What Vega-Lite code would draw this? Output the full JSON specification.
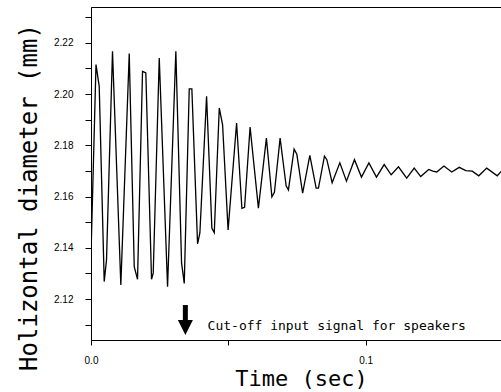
{
  "$schema": "https://vega.github.io/schema/vega-lite/v6.json",
  "autosize": "none",
  "width": 412,
  "height": 333,
  "padding": {"left": 91, "top": 7, "right": -2, "bottom": 52},
  "background": "white",
  "config": {
    "view": {"stroke": "black", "strokeWidth": 1, "strokeOpacity": 1},
    "axis": {
      "grid": false,
      "domainColor": "black",
      "tickColor": "black",
      "labelColor": "black",
      "titleColor": "black",
      "labelFontSize": 10,
      "titleFont": "DejaVu Sans Mono",
      "titleFontWeight": "normal"
    }
  },
  "datasets": {
    "wave": [
      {"t": 0.0, "d": 2.1372},
      {"t": 0.00182, "d": 2.2115},
      {"t": 0.00299, "d": 2.2030},
      {"t": 0.00481, "d": 2.1268},
      {"t": 0.00565, "d": 2.1353},
      {"t": 0.00783, "d": 2.2167},
      {"t": 0.01086, "d": 2.1255},
      {"t": 0.01392, "d": 2.2158},
      {"t": 0.01574, "d": 2.1326},
      {"t": 0.01694, "d": 2.1277},
      {"t": 0.01876, "d": 2.2089},
      {"t": 0.01996, "d": 2.2083},
      {"t": 0.02204, "d": 2.1277},
      {"t": 0.02266, "d": 2.1302},
      {"t": 0.02485, "d": 2.2141},
      {"t": 0.02787, "d": 2.1248},
      {"t": 0.03089, "d": 2.2167},
      {"t": 0.03297, "d": 2.1341},
      {"t": 0.03395, "d": 2.1261},
      {"t": 0.03577, "d": 2.2020},
      {"t": 0.03672, "d": 2.2020},
      {"t": 0.03880, "d": 2.1415},
      {"t": 0.03964, "d": 2.1458},
      {"t": 0.04208, "d": 2.1991},
      {"t": 0.04401, "d": 2.1476},
      {"t": 0.04488, "d": 2.1459},
      {"t": 0.04670, "d": 2.1946},
      {"t": 0.04791, "d": 2.1880},
      {"t": 0.04991, "d": 2.1470},
      {"t": 0.05301, "d": 2.1887},
      {"t": 0.05494, "d": 2.1554},
      {"t": 0.05592, "d": 2.1558},
      {"t": 0.05792, "d": 2.1871},
      {"t": 0.06095, "d": 2.1555},
      {"t": 0.06386, "d": 2.1828},
      {"t": 0.06586, "d": 2.1599},
      {"t": 0.06678, "d": 2.1617},
      {"t": 0.06885, "d": 2.1828},
      {"t": 0.07104, "d": 2.1642},
      {"t": 0.07188, "d": 2.1626},
      {"t": 0.07395, "d": 2.1785},
      {"t": 0.07494, "d": 2.1765},
      {"t": 0.07705, "d": 2.1613},
      {"t": 0.07967, "d": 2.1761},
      {"t": 0.08197, "d": 2.1633},
      {"t": 0.08281, "d": 2.1633},
      {"t": 0.08499, "d": 2.1758},
      {"t": 0.08587, "d": 2.1744},
      {"t": 0.08780, "d": 2.1654},
      {"t": 0.09060, "d": 2.1732},
      {"t": 0.09301, "d": 2.1660},
      {"t": 0.09592, "d": 2.1744},
      {"t": 0.09847, "d": 2.1676},
      {"t": 0.10117, "d": 2.1731},
      {"t": 0.10393, "d": 2.1676},
      {"t": 0.10674, "d": 2.1725},
      {"t": 0.10929, "d": 2.1685},
      {"t": 0.11195, "d": 2.1716},
      {"t": 0.11494, "d": 2.1672},
      {"t": 0.11767, "d": 2.1711},
      {"t": 0.12004, "d": 2.1678},
      {"t": 0.12295, "d": 2.1706},
      {"t": 0.12448, "d": 2.1699},
      {"t": 0.12587, "d": 2.1696},
      {"t": 0.12849, "d": 2.1719},
      {"t": 0.13133, "d": 2.1696},
      {"t": 0.13406, "d": 2.1714},
      {"t": 0.13643, "d": 2.1701},
      {"t": 0.13880, "d": 2.1699},
      {"t": 0.14117, "d": 2.1681},
      {"t": 0.14408, "d": 2.1711},
      {"t": 0.14791, "d": 2.1681},
      {"t": 0.15, "d": 2.1706}
    ],
    "shaft": [{"t": 0.03435, "d": 2.11765, "d2": 2.1105}],
    "head": [{"t": 0.03435, "d": 2.10885}],
    "note": [{"t": 0.04244, "d": 2.1079, "label": "Cut-off input signal for speakers"}]
  },
  "layer": [
    {
      "data": {"name": "wave"},
      "mark": {"type": "line", "color": "black", "strokeWidth": 1.3, "clip": true},
      "encoding": {
        "x": {
          "field": "t", "type": "quantitative",
          "scale": {"domain": [0, 0.15], "nice": false, "zero": false},
          "axis": {
            "title": "Time (sec)",
            "values": [0, 0.05, 0.1],
            "tickCount": 10,
            "labelExpr": "datum.value == 0 ? '0.0' : (abs(datum.value - 0.1) < 0.001 ? '0.1' : '')",
            "labelOverlap": false,
            "labelFlush": false,
            "tickSize": 5,
            "labelPadding": 10,
            "titleFontSize": 22,
            "titleX": 210,
            "titleY": 45,
            "titleBaseline": "alphabetic",
            "titleAnchor": "middle",
            "titleAlign": "center"
          }
        },
        "y": {
          "field": "d", "type": "quantitative",
          "scale": {"domain": [2.104, 2.234], "nice": false, "zero": false},
          "axis": {
            "title": "Holizontal diameter (mm)",
            "values": [2.11, 2.12, 2.13, 2.14, 2.15, 2.16, 2.17, 2.18, 2.19, 2.2, 2.21, 2.22, 2.23],
            "tickCount": 30,
            "format": ".2f",
            "labelExpr": "indexof(['2.12', '2.14', '2.16', '2.18', '2.20', '2.22'], datum.label) >= 0 ? datum.label : ''",
            "labelOverlap": false,
            "tickSize": 6,
            "labelPadding": 12,
            "titleFontSize": 24,
            "titleX": -55,
            "titleY": 190,
            "titleBaseline": "alphabetic",
            "titleAngle": -90,
            "titleAlign": "center"
          }
        }
      }
    },
    {
      "data": {"name": "shaft"},
      "mark": {"type": "rule", "color": "black", "strokeWidth": 5},
      "encoding": {
        "x": {"field": "t", "type": "quantitative"},
        "y": {"field": "d", "type": "quantitative"},
        "y2": {"field": "d2"}
      }
    },
    {
      "data": {"name": "head"},
      "mark": {"type": "point", "shape": "M-1,-1L1,-1L0,1Z", "filled": true, "color": "black", "opacity": 1, "size": 225},
      "encoding": {
        "x": {"field": "t", "type": "quantitative"},
        "y": {"field": "d", "type": "quantitative"}
      }
    },
    {
      "data": {"name": "note"},
      "mark": {"type": "text", "align": "left", "baseline": "alphabetic", "font": "DejaVu Sans Mono", "fontSize": 13, "color": "black"},
      "encoding": {
        "x": {"field": "t", "type": "quantitative"},
        "y": {"field": "d", "type": "quantitative"},
        "text": {"field": "label"}
      }
    }
  ]
}
